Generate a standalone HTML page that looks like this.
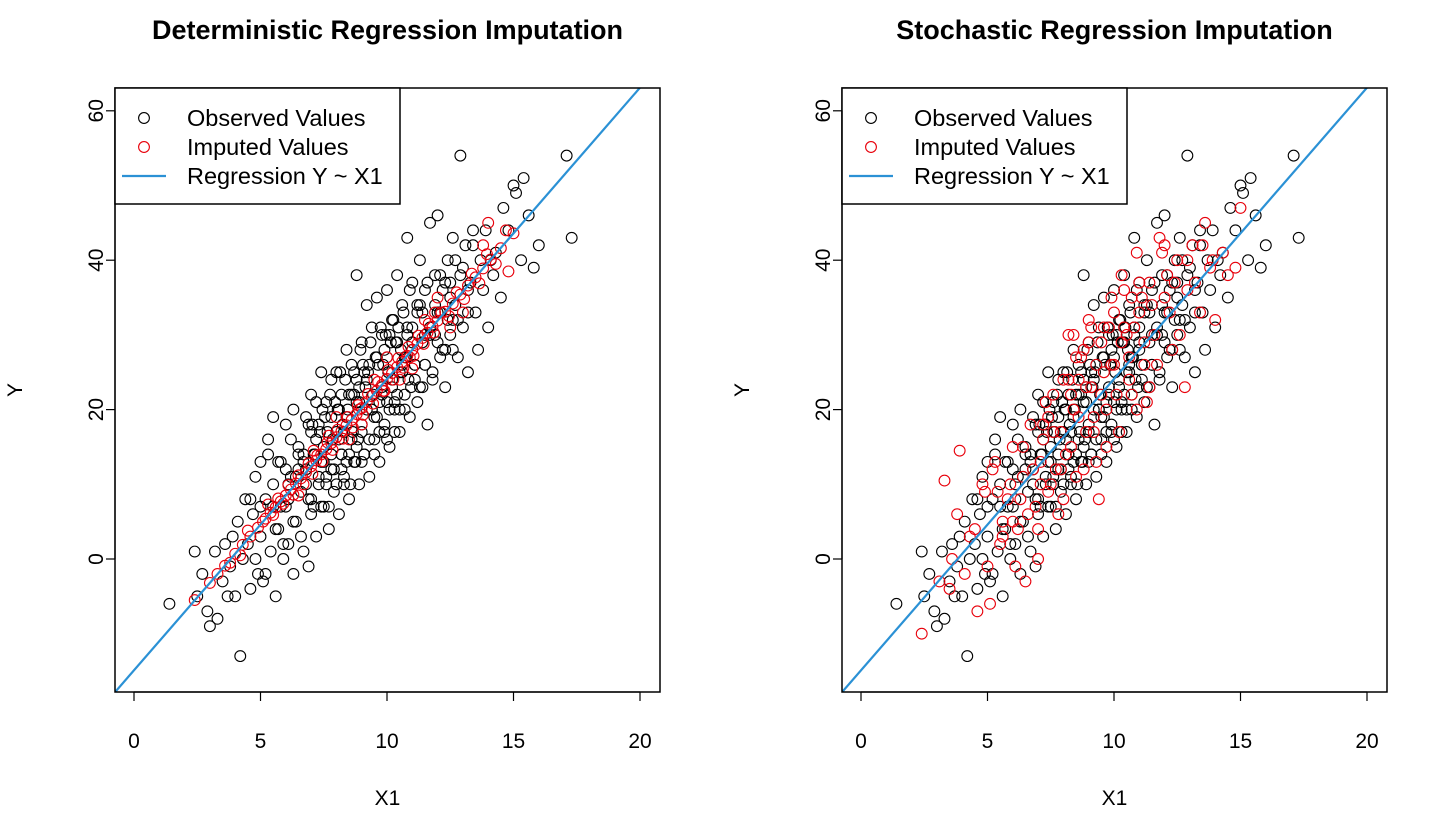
<!DOCTYPE html>
<html><head><meta charset="utf-8"><style>
body{margin:0;background:#fff;}
svg{display:block;font-family:"Liberation Sans",Arial,sans-serif;}
</style></head><body>
<svg id="c" width="1441" height="823"></svg>
<script>
// ---- data ----
const xTicks=[0,5,10,15,20];
const yTicks=[0,20,40,60];
const regIntercept=-14.9;
const regSlope=3.9;
const obsX=[1.4,2.4,2.5,2.7,2.9,3.0,3.2,3.3,3.5,3.6,3.7,3.8,3.9,4.0,4.1,4.2,4.3,4.4,4.5,4.6,4.7,4.8,4.9,5.0,5.0,5.1,5.2,5.3,5.4,5.5,5.5,5.6,5.7,5.8,5.9,6.0,6.0,6.1,6.2,6.3,6.3,6.4,6.5,6.6,6.7,6.8,6.8,6.9,7.0,7.0,7.1,7.2,7.3,7.3,7.4,7.5,7.5,7.6,7.7,7.8,7.8,7.9,8.0,8.0,8.1,8.2,8.2,8.3,8.4,8.4,8.5,8.6,8.7,8.7,8.8,8.8,8.9,9.0,9.0,9.1,9.2,9.2,9.3,9.4,9.4,9.5,9.6,9.6,9.7,9.8,9.8,9.9,10.0,10.0,10.1,10.2,10.2,10.3,10.4,10.4,10.5,10.6,10.6,10.7,10.8,10.8,10.9,11.0,11.0,11.1,11.2,11.2,11.3,11.4,11.5,11.5,11.6,11.7,11.7,11.8,11.9,12.0,12.0,12.1,12.2,12.3,12.4,12.5,12.6,12.7,12.8,12.9,12.9,13.0,13.1,13.2,13.3,13.4,13.5,13.6,13.7,13.8,13.9,14.0,14.2,14.3,14.5,14.6,14.8,15.0,15.1,15.3,15.4,15.6,15.8,16.0,17.1,17.3,6.5,7.2,7.8,8.3,8.9,9.3,9.7,10.1,10.5,11.0,11.5,12.1,12.5,5.8,6.1,6.7,7.4,8.1,8.6,9.1,9.9,10.7,11.3,12.6,13.2,14.1,6.9,7.6,8.2,8.8,9.5,10.3,11.1,11.9,12.3,7.0,8.5,9.0,10.0,11.4];
const obsY=[-6,1,-5,-2,-7,-9,1,-8,-3,2,-5,-1,3,-5,5,-13,0,8,2,-4,6,11,-2,13,3,-3,8,16,1,19,10,-5,4,13,0,18,7,2,11,20,-2,5,15,9,1,19,12,-1,22,6,14,3,18,10,25,7,15,21,4,12,24,9,17,25,6,14,22,11,19,28,8,16,25,13,38,21,10,18,29,14,24,34,11,20,31,16,27,35,13,23,30,18,27,36,15,24,32,20,29,38,17,26,34,22,43,30,19,28,37,24,33,21,40,29,26,36,18,31,45,25,38,33,46,27,36,23,40,30,43,34,27,54,38,31,42,25,37,44,33,28,40,36,44,31,38,41,35,47,44,50,49,40,51,46,39,42,54,43,12,16,19,17,23,26,21,30,25,31,30,33,37,7,10,14,13,20,22,25,28,27,34,32,36,40,8,11,12,15,19,21,26,30,28,17,14,13,16,23];
const obsX2=[4.6,4.8,5.0,5.2,5.3,5.5,5.6,5.7,5.9,6.0,6.1,6.2,6.3,6.4,6.5,6.6,6.7,6.8,6.9,7.0,7.05,7.1,7.15,7.2,7.3,7.35,7.4,7.45,7.5,7.55,7.6,7.65,7.7,7.75,7.8,7.85,7.9,7.95,8.0,8.05,8.1,8.15,8.2,8.25,8.3,8.35,8.4,8.45,8.5,8.55,8.6,8.65,8.7,8.75,8.8,8.85,8.9,8.95,9.0,9.05,9.1,9.15,9.2,9.25,9.3,9.35,9.4,9.45,9.5,9.55,9.6,9.65,9.7,9.75,9.8,9.85,9.9,9.95,10.0,10.05,10.1,10.15,10.2,10.25,10.3,10.35,10.4,10.45,10.5,10.55,10.6,10.65,10.7,10.75,10.8,10.85,10.9,10.95,11.0,11.1,11.2,11.3,11.4,11.5,11.6,11.7,11.8,11.9,12.0,12.1,12.2,12.3,12.4,12.5,12.6,12.7,12.8,13.0,13.2,13.4];
const obsY2=[8,0,7,-2,14,7,4,13,2,12,8,16,5,11,14,3,13,10,18,8,18,7,14,21,11,17,7,20,13,19,10,17,7,22,14,16,12,21,10,20,16,25,14,18,10,24,13,20,22,10,26,17,22,13,24,16,21,28,17,26,14,23,20,25,16,29,20,22,14,27,19,26,17,31,22,26,17,30,21,25,20,29,23,32,17,29,22,31,20,28,25,33,20,27,31,24,36,23,29,26,34,23,33,26,37,30,24,34,29,38,28,37,32,35,28,40,32,39,33,42];
const detX=[2.4,3.0,3.3,3.6,4.0,4.3,4.6,4.9,5.2,5.4,5.6,5.8,6.0,6.2,6.4,6.6,6.8,7.0,7.2,7.4,7.6,7.8,8.0,8.2,8.4,8.6,8.8,9.0,9.2,9.4,9.6,9.8,10.0,10.2,10.4,10.6,10.8,11.0,11.2,11.4,11.6,11.8,12.0,12.3,12.6,12.9,13.2,13.5,13.8,14.1,14.5,15.0,7.1,8.5,9.5,10.5,11.5,12.5,13.8,14.0,14.8,8.0,9.0,10.0,11.0,6.5,12.0,13.0,7.7,8.9,9.9,10.9,11.9,5.1,5.3,5.5,5.7,5.9,6.1,6.3,6.5,6.7,6.9,7.05,7.25,7.45,7.65,7.85,8.05,8.25,8.45,8.65,8.85,9.05,9.25,9.45,9.65,9.85,10.05,10.25,10.45,10.65,10.85,11.05,11.25,11.45,11.65,11.85,12.15,12.45,12.75,13.05,13.35,13.65,13.95,14.3,4.5,4.2,3.8,14.7];
const detY=[-5.5,-3.2,-2.0,-0.9,0.7,1.9,3.0,4.2,5.4,6.2,6.9,7.7,8.5,9.3,10.1,10.8,11.6,12.4,13.2,14.0,14.7,15.5,16.3,17.1,17.9,18.6,19.4,20.2,21.0,21.8,22.5,23.3,24.1,24.9,25.7,26.4,27.2,28.0,28.8,29.6,30.3,31.1,31.9,33.1,34.2,35.4,36.6,37.7,38.9,40.1,41.6,43.6,14.5,16,24,24,32,31,42,45,38.5,19,18,27,25.5,8.5,35,33,16.5,20,22.5,27,33,5.0,7.3,5.9,8.1,7.4,9.9,8.6,11.2,10.0,12.8,11.4,13.9,13.1,15.6,14.6,17.3,16.1,19.0,17.6,20.6,19.3,22.1,20.8,23.7,22.5,25.3,24.0,26.9,25.6,28.4,27.2,29.9,28.8,31.5,30.3,33.0,32.5,35.7,34.8,38.2,36.9,40.8,39.5,3.8,0.5,-0.5,44];
const stoX=[2.4,3.3,3.5,3.8,3.9,4.1,4.5,4.6,4.9,5.1,5.3,5.5,5.8,6.0,6.2,6.4,6.5,6.7,6.9,7.0,7.1,7.3,7.5,7.6,7.8,8.0,8.1,8.2,8.4,8.5,8.7,8.9,9.0,9.1,9.3,9.4,9.5,9.7,9.9,10.0,10.2,10.3,10.5,10.7,10.9,11.0,11.2,11.4,11.6,11.8,12.0,12.3,12.5,12.8,12.9,13.1,13.4,13.6,13.8,14.0,14.3,14.8,15.0,7.2,7.9,8.6,9.2,9.8,10.6,11.3,12.1,6.3,5.6,8.3,9.6,10.4,11.1,7.4,8.8,5.2,5.6,5.9,6.1,6.4,6.6,6.8,7.0,7.2,7.4,7.6,7.7,7.9,8.0,8.2,8.3,8.5,8.6,8.8,8.9,9.0,9.2,9.3,9.5,9.6,9.7,9.9,10.0,10.1,10.3,10.4,10.6,10.8,10.9,11.0,11.2,11.5,11.7,11.9,12.2,12.4,12.6,12.9,13.2,13.5,13.9,14.5,4.3,4.8,5.0,3.6,3.1,5.4,6.0,7.1,8.4,9.1,10.7,12.0,11.4];
const stoY=[-10,10.5,-4,6,14.5,-2,4,-7,9,-6,13,2,8,15,4,11,-3,18,7,0,13,21,10,17,6,24,14,30,20,11,27,17,32,23,13,8,29,20,35,26,17,38,30,22,41,33,26,37,30,43,35,28,40,23,36,42,33,45,39,32,41,39,47,16,12,24,19,31,27,21,38,8,5,22,25,31,35,19,28,12,3,10,-1,15,6,12,4,18,9,22,12,17,8,24,15,27,19,12,23,29,17,26,22,31,15,26,33,22,29,36,24,31,20,37,29,34,26,41,33,37,30,40,37,42,40,38,3,10,-1,0,-3,9,5,10,30,31,35,42,23];

const NS='http://www.w3.org/2000/svg';
const svg=document.getElementById('c');
function mk(t,a,p){const e=document.createElementNS(NS,t);for(const k in a)e.setAttribute(k,a[k]);(p||svg).appendChild(e);return e;}

function panel(id,left,x0px,title,impX,impY){
  const right=left+545,top=88,bottom=692;
  const sx=v=>x0px+v*25.3;
  const sy=v=>559-v*7.47;
  const g=mk('g',{});
  
  
  const cp=mk('clipPath',{id:'cp'+id},g);
  mk('rect',{x:left,y:top,width:right-left,height:bottom-top},cp);
  const t=mk('text',{x:(left+right)/2,y:39,'text-anchor':'middle','font-size':'27','font-weight':'bold'},g);
  t.textContent=title;
  
  const pts=mk('g',{'clip-path':'url(#cp'+id+')'},g);
  
  const ox=obsX.concat(obsX2), oy=obsY.concat(obsY2);
  for(let i=0;i<ox.length;i++){
    const c=mk('circle',{cx:sx(ox[i]),cy:sy(oy[i]),r:5.4,fill:'none',stroke:'#000','stroke-width':1.1},pts);
    
    
  }
  for(let i=0;i<impX.length;i++){
    const c=mk('circle',{cx:sx(impX[i]),cy:sy(impY[i]),r:5.4,fill:'none',stroke:'#e8000b','stroke-width':1.1},pts);
    
    
  }
  const xa=-2,xb=22;
  const l=mk('line',{x1:sx(xa),y1:sy(regIntercept+regSlope*xa),x2:sx(xb),y2:sy(regIntercept+regSlope*xb),stroke:'#2b91d5','stroke-width':2.2,'clip-path':'url(#cp'+id+')'},g);
  
  const box=mk('rect',{x:left,y:top,width:right-left,height:bottom-top,fill:'none',stroke:'#000','stroke-width':1.5},g);
  
  // legend
  const lg=mk('g',{},g);
  
  mk('rect',{x:left,y:top,width:285,height:116,fill:'#fff',stroke:'#000','stroke-width':1.5},lg);
  const items=[['Observed Values','#000','c'],['Imputed Values','#e8000b','c'],['Regression Y ~ X1','#2b91d5','l']];
  items.forEach((it,i)=>{
    const y=top+30+i*29;
    if(it[2]=='c')mk('circle',{cx:left+29,cy:y,r:5.4,fill:'none',stroke:it[1],'stroke-width':1.1},lg);
    else mk('line',{x1:left+7,x2:left+51,y1:y,y2:y,stroke:it[1],'stroke-width':2.2},lg);
    const tx=mk('text',{x:left+72,y:y+8,'font-size':'23.5'},lg);
    tx.textContent=it[0];
    
  });
  // axes
  const ax=mk('g',{},g);
  mk('line',{x1:sx(xTicks[0]),x2:sx(xTicks[xTicks.length-1]),y1:bottom,y2:bottom,stroke:'#000','stroke-width':1.2},ax);
  xTicks.forEach(v=>{
    mk('line',{x1:sx(v),x2:sx(v),y1:bottom,y2:bottom+9,stroke:'#000','stroke-width':1.2},ax);
    const tx=mk('text',{x:sx(v),y:748,'text-anchor':'middle','font-size':'21'},ax);tx.textContent=v;
    
  });
  const xt=mk('text',{x:(left+right)/2,y:805,'text-anchor':'middle','font-size':'21'},g);xt.textContent='X1';
  
  const ay=mk('g',{},g);
  mk('line',{x1:left,x2:left,y1:sy(yTicks[0]),y2:sy(yTicks[yTicks.length-1]),stroke:'#000','stroke-width':1.2},ay);
  yTicks.forEach(v=>{
    mk('line',{x1:left-9,x2:left,y1:sy(v),y2:sy(v),stroke:'#000','stroke-width':1.2},ay);
    const tx=mk('text',{x:left-12,y:sy(v),'text-anchor':'middle','font-size':'21',transform:`rotate(-90 ${left-12} ${sy(v)})`},ay);tx.textContent=v;
    
  });
  const yt=mk('text',{x:left-93,y:390,'text-anchor':'middle','font-size':'21',transform:`rotate(-90 ${left-93} 390)`},g);yt.textContent='Y';
  
}
panel('deterministic-panel',115,134,'Deterministic Regression Imputation',detX,detY);
panel('stochastic-panel',842,861,'Stochastic Regression Imputation',stoX,stoY);
</script>
</body></html>
